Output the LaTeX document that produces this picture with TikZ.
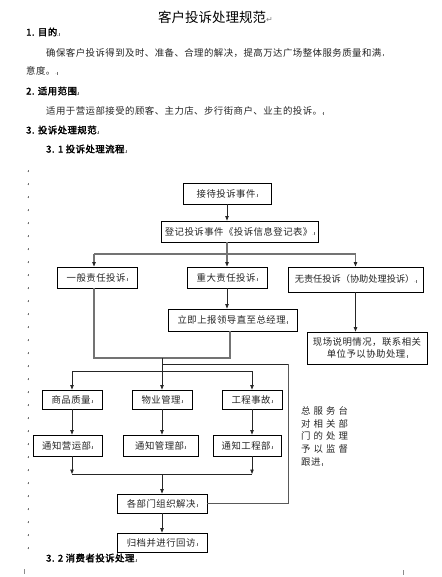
\documentclass[tikz,border=0pt]{standalone}
\usepackage{fontspec}
\setmainfont{Noto Sans CJK SC}
\newfontfamily\cjkb{Noto Sans CJK SC}[FakeBold=2.2]
\newfontfamily\djv{DejaVu Sans}
\usetikzlibrary{arrows.meta}
\newcommand\bodyfont{\fontsize{9.4}{12}\selectfont\addfontfeature{LetterSpace=5}}
\newcommand\headfont{\cjkb\fontsize{9.4}{12}\selectfont\addfontfeature{LetterSpace=5}}
\newcommand\mk{{\color{black!55}\fontsize{5}{5}\selectfont.\rule{0.4pt}{2.8pt}}}
\tikzset{
  box/.style={draw=black, line width=0.8pt, minimum height=21pt, inner sep=0pt, font=\bodyfont, text=black!85},
  conn/.style={line width=0.8pt, draw=black!85},
  gconn/.style={line width=1.3pt, draw=black!55},
  arr/.style={-{Triangle[length=4.5pt,width=3.4pt,color=black!85]}},
  txt/.style={anchor=west, inner sep=0pt, font=\bodyfont, text=black!85},
  hd/.style={anchor=west, inner sep=0pt, font=\headfont, text=black},
  rt/.style={anchor=west, inner sep=0pt, font=\bodyfont\addfontfeature{LetterSpace=33}, text=black!85},
  mkn/.style={inner sep=0pt}
}
\begin{document}
\begin{tikzpicture}[x=1pt,y=-1pt]
\fill[white] (0,0) rectangle (441,577);
\useasboundingbox (0,0) rectangle (441,577);

% header texts
\node[anchor=west, inner sep=0pt, font=\fontsize{13.5}{14}\selectfont] (title) at (158,17) {客户投诉处理规范{\djv\color{black!50}\fontsize{8}{8}\selectfont ↵}};
\node[hd] (h1) at (26,32) {1. 目的\mk};
\node[txt] (p1) at (46,53) {确保客户投诉得到及时、准备、合理的解决，提高万达广场整体服务质量和满\mk};
\node[txt] (p1b) at (26,71) {意度。\mk};
\node[hd] (h2) at (26,91) {2. 适用范围\mk};
\node[txt] (p2) at (46,111) {适用于营运部接受的顾客、主力店、步行街商户、业主的投诉。\mk};
\node[hd] (h3) at (26,130) {3. 投诉处理规范\mk};
\node[hd] (h31) at (46,149) {3. 1 投诉处理流程\mk};
\node[hd] (h32) at (46,558) {3. 2 消费者投诉处理\mk};

% margin marks
\foreach \i in {0,...,29} \node[mkn] (mk\i) at (28,171+13*\i) {\mk};
\draw[black!45, line width=0.5pt] (24,569) -- (24,574);
\draw[black!45, line width=0.5pt] (403,570) -- (403,575);

% boxes
\node[box, minimum width=88pt] (b1) at (227,193.5) {接待投诉事件\mk};
\node[box, minimum width=157pt] (b2) at (239.5,231.5) {登记投诉事件《投诉信息登记表》\mk};
\node[box, minimum width=80pt] (b3) at (97,277.5) {一般责任投诉\mk};
\node[box, minimum width=80pt] (b4) at (227,277.5) {重大责任投诉\mk};
\node[box, minimum width=135pt, minimum height=25pt, font=\fontsize{9.2}{12}\selectfont] (b5) at (355.5,279.5) {无责任投诉（协助处理投诉）\mk};
\node[box, minimum width=129pt, minimum height=22pt] (b6) at (232.5,320) {立即上报领导直至总经理\mk};
\node[box, minimum width=120pt, minimum height=32pt, align=center] (b7) at (367,348) {现场说明情况，联系相关\\单位予以协助处理\mk};
\node[box, minimum width=60pt, minimum height=19pt] (b8) at (72,399.5) {商品质量\mk};
\node[box, minimum width=60pt, minimum height=19pt] (b9) at (162,399.5) {物业管理\mk};
\node[box, minimum width=60pt, minimum height=19pt] (b10) at (252,399.5) {工程事故\mk};
\node[box, minimum width=69pt] (b11) at (67.5,445.5) {通知营运部\mk};
\node[box, minimum width=75pt] (b12) at (160.5,445.5) {通知管理部\mk};
\node[box, minimum width=68pt] (b13) at (247,445.5) {通知工程部\mk};
\node[box, minimum width=90pt, minimum height=19pt] (b14) at (162,503.5) {各部门组织解决\mk};
\node[box, minimum width=90pt, minimum height=19pt] (b15) at (162,542.5) {归档并进行回访\mk};

% right side text
\node[rt] (t1) at (301,411) {总服务台};
\node[rt] (t2) at (301,423.5) {对相关部};
\node[rt] (t3) at (301,436) {门的处理};
\node[rt] (t4) at (301,448.5) {予以监督};
\node[txt] (t5) at (301,462.5) {跟进\mk};

% junction coordinates
\coordinate (j1) at (227,254);
\coordinate (jL) at (94,254);
\coordinate (jR) at (355.5,254);
\coordinate (u1) at (94,358);
\coordinate (u2) at (230,358);
\coordinate (m1) at (162,358);
\coordinate (m2) at (162,364);
\coordinate (m3) at (162,371);
\coordinate (f1) at (288,364);
\coordinate (r1) at (72,371);
\coordinate (r3) at (252,371);
\coordinate (s1) at (72,474);
\coordinate (s2) at (162,474);
\coordinate (s3) at (252,474);

% connectors
\draw[conn,arr] (b1.south) -- (b1.south |- b2.north);
\draw[gconn] (b2.south -| j1) -- (j1);
\draw[gconn] (jL) -- (jR);
\draw[gconn,arr] (jL) -- (jL |- b3.north);
\draw[gconn,arr] (j1) -- (b4.north);
\draw[gconn,arr] (jR) -- (b5.north);
\draw[conn,arr] (b4.south) -- (b4.south |- b6.north);
\draw[conn,arr] (b5.south) -- (b7.north -| b5.south);
\draw[gconn] (b3.south -| u1) -- (u1) -- (u2) -- (b6.south -| u2);
\draw[conn] (m1) -- (m3);
\draw[conn] (m2) -- (f1);
\draw[conn, draw=black!65, line width=1pt] (f1) -- (f1 |- b14.east) -- (b14.east);
\draw[conn] (r1) -- (r3);
\draw[conn,arr] (r1) -- (b8.north);
\draw[conn,arr] (m3) -- (b9.north);
\draw[conn,arr] (r3) -- (b10.north);
\draw[conn,arr] (b8.south) -- (b8.south |- b11.north);
\draw[conn,arr] (b9.south) -- (b9.south |- b12.north);
\draw[conn,arr] (b10.south) -- (b10.south |- b13.north);
\draw[conn,arr] (b11.south -| s1) -- (s1);
\draw[conn,arr] (b13.south -| s3) -- (s3);
\draw[conn] (s1) -- (s3);
\draw[conn,arr] (s2) -- (b14.north);
\draw[conn,arr] (b14.south) -- (b15.north);
\end{tikzpicture}
\end{document}
